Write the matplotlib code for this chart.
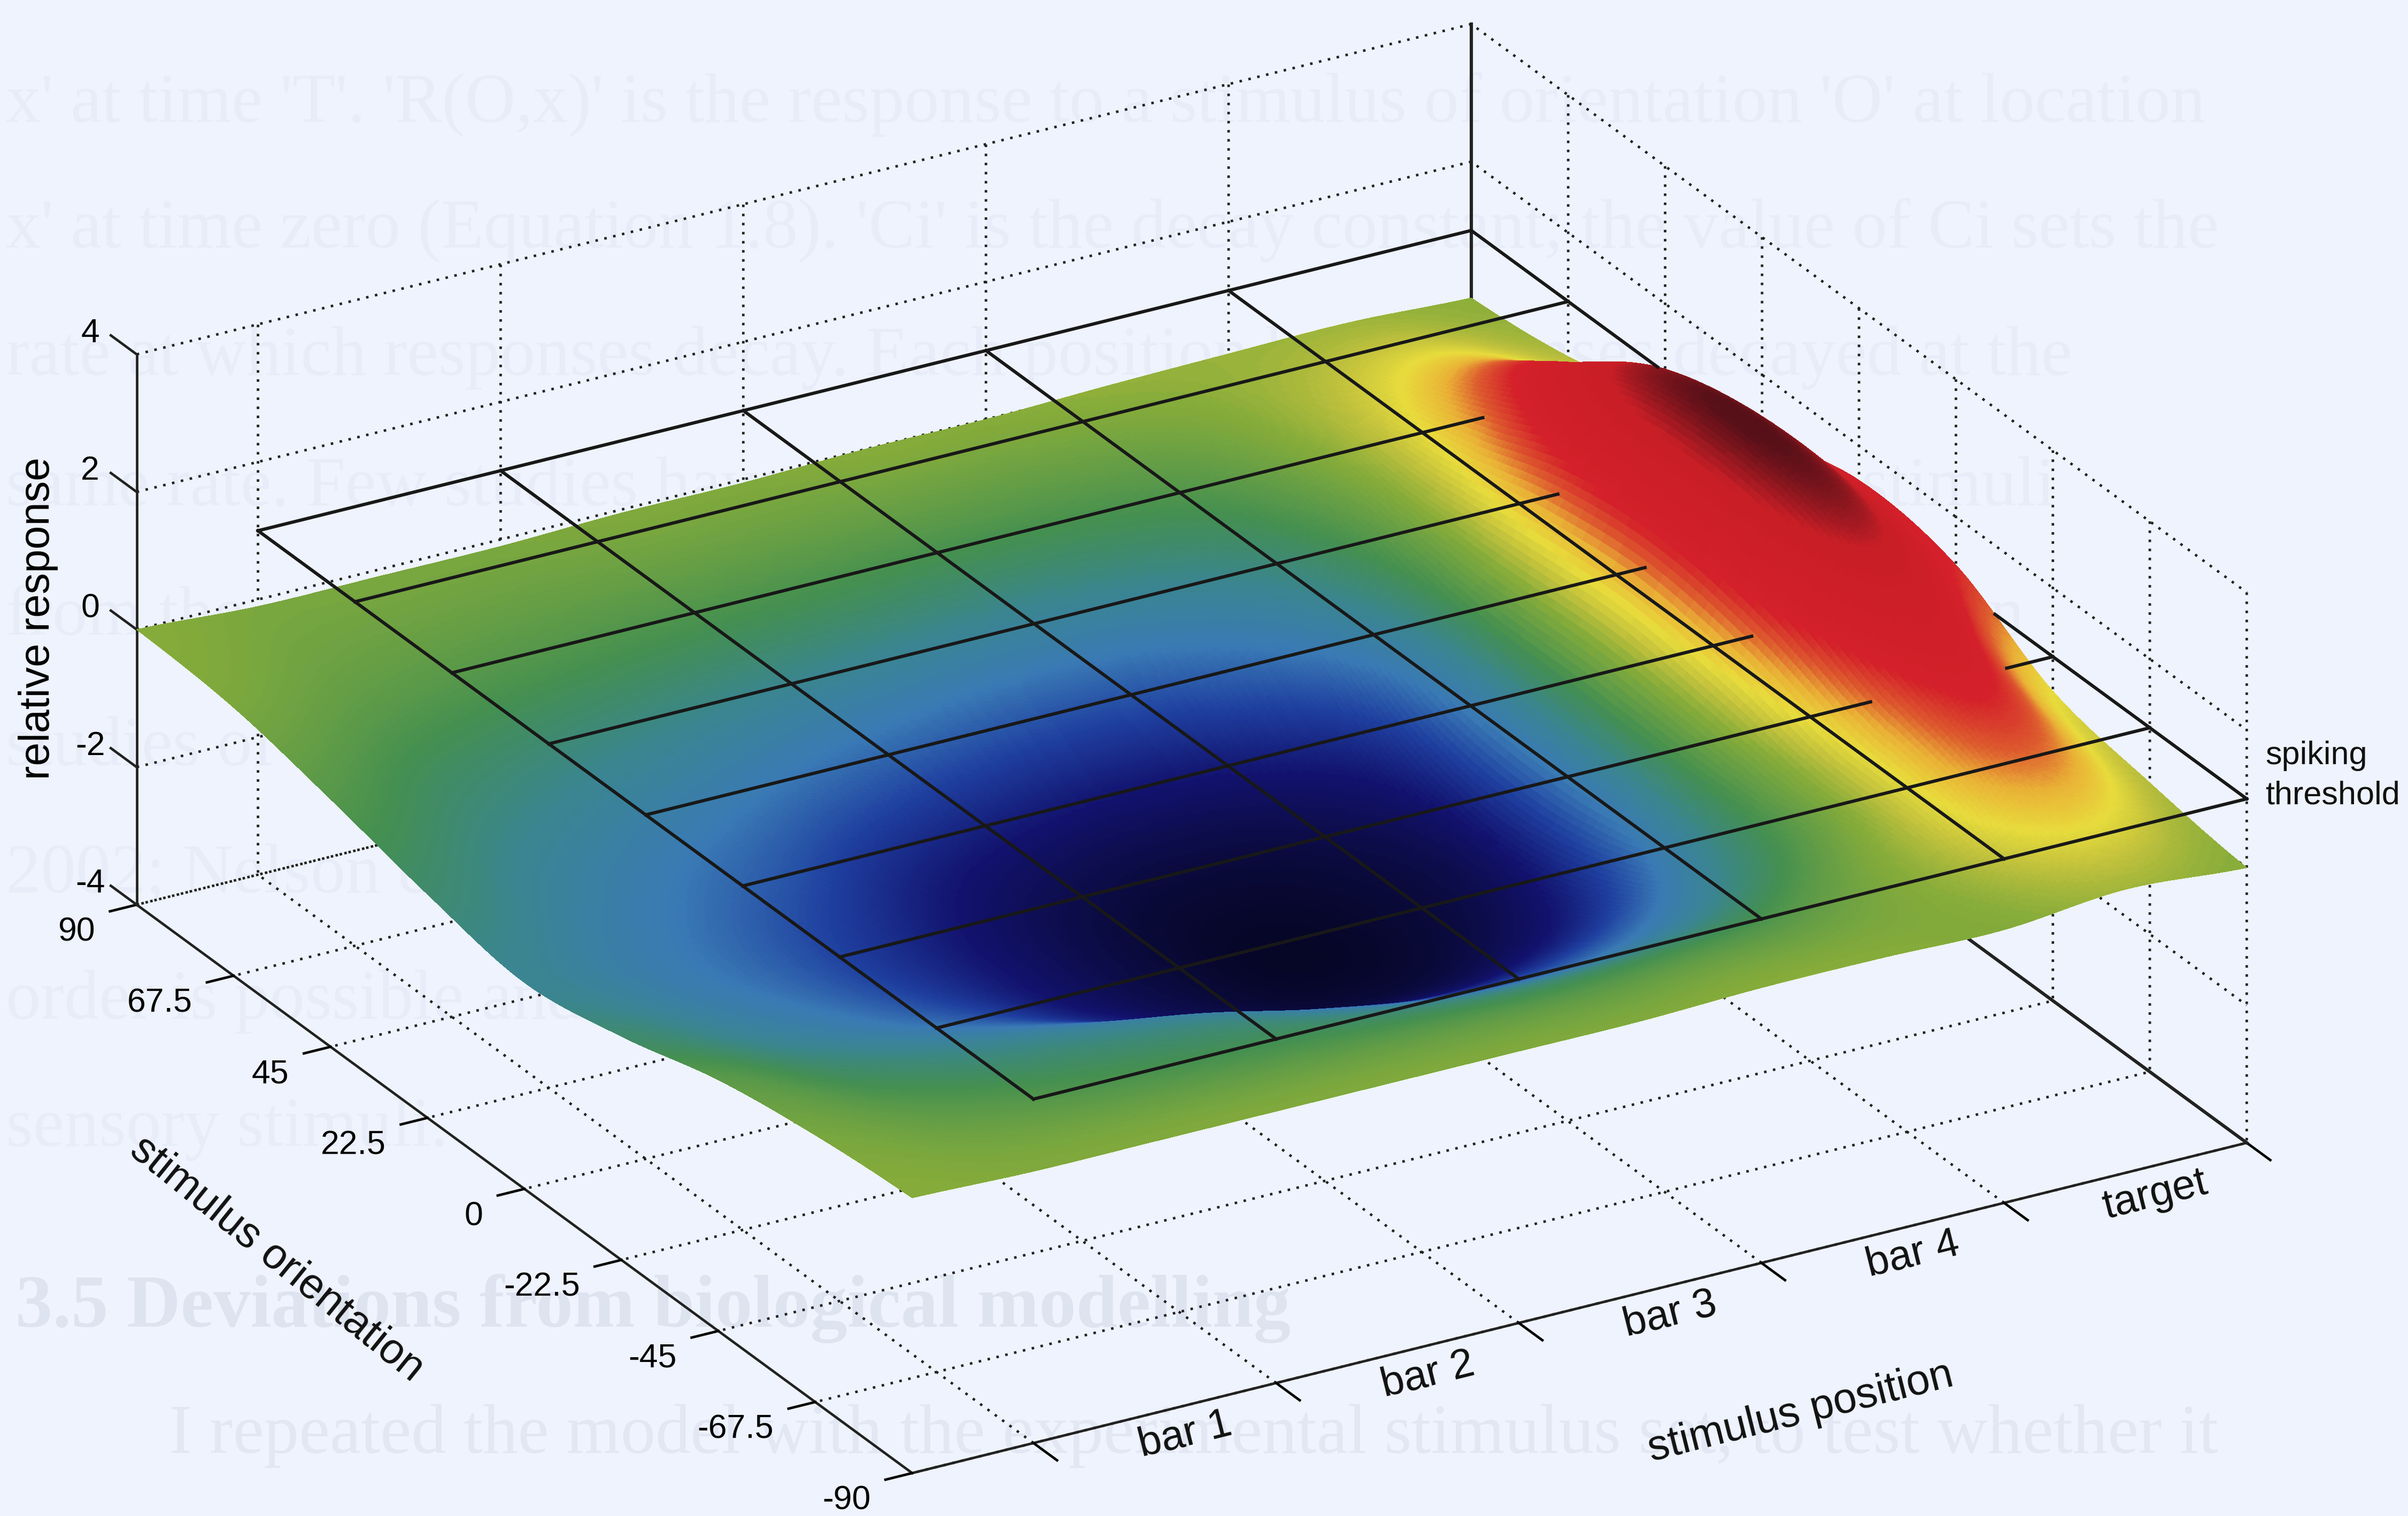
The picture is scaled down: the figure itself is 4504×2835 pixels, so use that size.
import numpy as np
import matplotlib
matplotlib.use("Agg")
import matplotlib.pyplot as plt
from matplotlib.colors import LinearSegmentedColormap
from mpl_toolkits.mplot3d import proj3d

W, H = 4504, 2835
DPI = 200
BG = '#EEF3FD'

# --- data -----------------------------------------------------------------
position_ticks = [1, 2, 3, 4, 5, 6]
position_labels = ['bar 1', 'bar 2', 'bar 3', 'bar 4', 'target']
position_label_at = [1.5, 2.5, 3.5, 4.5, 5.5]
orientation_ticks = [-90, -67.5, -45, -22.5, 0, 22.5, 45, 67.5, 90]
orientation_labels = ['-90', '-67.5', '-45', '-22.5', '0', '22.5', '45', '67.5', '90']
response_ticks = [-4, -2, 0, 2, 4]
threshold = 1.0

grid_position = [0.5, 1, 1.5, 2, 2.5, 3, 3.5, 4, 4.5, 5, 5.5, 6]
grid_orientation = [90, 67.5, 45, 22.5, 0, -22.5, -45, -67.5, -90]
response_y90 = [0.00, -0.10, -0.10, -0.10, -0.05, -0.05, 0.00, 0.00, 0.05, 0.08, 0.10, 0.02]
response_y68 = [-0.10, -0.28, -0.38, -0.45, -0.50, -0.55, -0.60, -0.58, -0.40, 0.15, 0.60, 0.20]
response_y45 = [-0.40, -0.72, -0.95, -1.15, -1.38, -1.58, -1.72, -1.62, -1.10, 0.10, 1.55, 0.60]
response_y22 = [-0.75, -1.10, -1.42, -1.75, -2.20, -2.55, -2.75, -2.65, -2.00, 0.20, 2.50, 1.10]
response_y00 = [-1.00, -1.30, -1.62, -2.02, -2.45, -2.85, -3.15, -3.00, -2.30, 0.30, 2.75, 1.50]
response_n22 = [-0.75, -1.10, -1.42, -1.78, -2.25, -2.65, -2.90, -2.75, -2.00, 0.15, 2.50, 1.30]
response_n45 = [-0.35, -0.68, -0.88, -1.00, -1.15, -1.50, -1.75, -1.70, -1.20, -0.05, 1.68, 0.50]
response_n68 = [-0.12, -0.30, -0.42, -0.48, -0.52, -0.58, -0.62, -0.55, -0.40, 0.10, 1.00, 0.20]
response_n90 = [0.00, -0.05, -0.05, -0.05, -0.05, -0.05, -0.05, 0.00, 0.00, -0.03, 0.12, 0.00]

color_levels = [-3.3, -2.9, -2.4, -1.9, -1.45, -1.0, -0.55, 0.0, 0.25, 0.5, 0.8, 1.05, 1.35, 2.3, 2.75, 3.1]
color_values = ['#04041E', '#0A0A3C', '#12126E', '#1F40A0', '#3A7AB5', '#3A8590', '#448F50',
                '#86AC3A', '#BFC03C', '#E8DC3C', '#E9B036', '#DD5A2E', '#D4202A', '#C81E26',
                '#5A1018', '#2A0A10']

response = np.array([response_y90, response_y68, response_y45, response_y22, response_y00,
                     response_n22, response_n45, response_n68, response_n90])

# --- rendering: interpolated shading between the read grid values ----------
def cr_axis(a, n, axis):
    a = np.moveaxis(a, axis, 0)
    m = a.shape[0]
    s = np.linspace(0, m - 1, n)
    i = np.clip(np.floor(s).astype(int), 0, m - 2)
    t = (s - i).reshape((-1,) + (1,) * (a.ndim - 1))
    p0 = a[np.clip(i - 1, 0, m - 1)]
    p1 = a[i]
    p2 = a[i + 1]
    p3 = a[np.clip(i + 2, 0, m - 1)]
    out = 0.5 * (2 * p1 + (p2 - p0) * t + (2 * p0 - 5 * p1 + 4 * p2 - p3) * t ** 2
                 + (3 * p1 - p0 - 3 * p2 + p3) * t ** 3)
    return np.moveaxis(out, 0, axis)

NX, NY = 331, 361
Zf = cr_axis(cr_axis(response, NY, 0), NX, 1)
xf = np.linspace(grid_position[0], grid_position[-1], NX)
yf = np.linspace(grid_orientation[0], grid_orientation[-1], NY)
Xf, Yf = np.meshgrid(xf, yf)

plt.rcParams['font.family'] = ['Liberation Sans', 'DejaVu Sans']
plt.rcParams['grid.linestyle'] = (0, (1, 2.6))
plt.rcParams['grid.color'] = '#222222'
plt.rcParams['grid.linewidth'] = 1.7
plt.rcParams['axes.linewidth'] = 1.7
plt.rcParams['axes.edgecolor'] = '#222222'
plt.rcParams['xtick.major.width'] = 1.7
plt.rcParams['ytick.major.width'] = 1.7

fig = plt.figure(figsize=(W / DPI, H / DPI), dpi=DPI, facecolor=BG)
def ov(x, y):
    return x / 1568, 1 - y / 987

# faint show-through of the reverse of the scanned page
GHOST = '#E8ECF8'
ghost_lines = [
    (4, 68, "x' at time 'T'. 'R(O,x)' is the response to a stimulus of orientation 'O' at location"),
    (4, 150, "x' at time zero (Equation 1.8). 'Ci' is the decay constant; the value of Ci sets the"),
    (4, 233, "rate at which responses decay. Each position had responses decayed at the"),
    (4, 318, "same rate. Few studies have examined this with simulations using stimuli"),
    (4, 402, "from the experiment tested this decay over time; see for this comparison"),
    (4, 487, "studies of this decay in striate cortex have been made, and results et al."),
    (4, 570, "2002; Nelson et al. 2003 showed how the responses combine in temporal"),
    (4, 652, "order is possible and this is relevant to the processing of"),
    (4, 735, "sensory stimuli."),
]
for gx, gy, gt in ghost_lines:
    fig.text(*ov(gx, gy), gt, fontsize=47, family='Liberation Serif', color=GHOST,
             va='center', zorder=-5)
fig.text(*ov(10, 852), '3.5 Deviations from biological modelling', fontsize=50,
         family='Liberation Serif', weight='bold', color='#DEE3F0', va='center', zorder=-5)
fig.text(*ov(110, 935), 'I repeated the model with the experimental stimulus set, to test whether it',
         fontsize=47, family='Liberation Serif', color='#E2E7F3', va='center', zorder=-5)

ax = fig.add_axes([0.1, 0.1, 0.5, 0.5], projection='3d', computed_zorder=False)
ax.patch.set_alpha(0)
ELEV, AZIM = 25.2, -120.16
ax.set_proj_type('ortho')
ax.view_init(elev=ELEV, azim=AZIM)
ax.set_box_aspect((1, 1, 0.394))
ax.set_xlim(0.5, 6, view_margin=0)
ax.set_ylim(-90, 90, view_margin=0)
ax.set_zlim(-4, 4, view_margin=0)

# place the axes so that the floor corners land where they are in the picture
M = ax.get_proj()
def prj(x, y, z):
    a, b, _ = proj3d.proj_transform(x, y, z, M)
    return float(a), float(b)
L = prj(0.5, 90, -4)
R = prj(6, -90, -4)
px_k = W / 1568
target_L = np.array([89 * px_k, H - 589 * px_k])
target_R = np.array([1463 * px_k, H - 744 * px_k])
vl = ax.viewLim
S = (target_R[0] - target_L[0]) / (R[0] - L[0]) * (vl.x1 - vl.x0)
x0 = target_L[0] - (L[0] - vl.x0) / (vl.x1 - vl.x0) * S
y0 = target_L[1] - (L[1] - vl.y0) / (vl.y1 - vl.y0) * S
ax.set_position([x0 / W, y0 / H, S / W, S / H])

cmap = LinearSegmentedColormap.from_list(
    'resp', [((v - color_levels[0]) / (color_levels[-1] - color_levels[0]), c)
             for v, c in zip(color_levels, color_values)], N=256)

ax.plot_surface(Xf, Yf, Zf, cmap=cmap, vmin=color_levels[0], vmax=color_levels[-1],
                rstride=1, cstride=1, linewidth=0, antialiased=False, shade=False, zorder=1)

for a, fac in ((ax.xaxis, 0.38), (ax.yaxis, 0.25), (ax.zaxis, 0.0)):
    a.set_pane_color((1, 1, 1, 0))
    a.pane.set_edgecolor((1, 1, 1, 0))
    a._axinfo['tick']['inward_factor'] = fac
    a._axinfo['tick']['outward_factor'] = 0.0
ax.xaxis._axinfo['axisline']['linewidth'] = 2.6

ax.set_xticks(position_ticks)
ax.set_xticklabels([''] * len(position_ticks))
ax.set_yticks(orientation_ticks)
ax.set_yticklabels(orientation_labels, fontsize=22.5, va='center', ha='right')
ax.set_zticks(response_ticks)
ax.set_zticklabels([str(v) for v in response_ticks], fontsize=22.5, va='bottom', ha='center')
ax.zaxis.set_ticks_position('upper')
ax.tick_params(axis='y', pad=16)
ax.tick_params(axis='z', pad=9)
ax.zaxis.set_rotate_label(False)
ax.set_zlabel('relative response', fontsize=28.5, rotation=90, labelpad=15)

# response-axis tick marks point along the orientation direction
for v in response_ticks:
    ax.plot([0.5, 0.5], [90, 96], [v, v], color='#222222', lw=1.7, zorder=0.4)

# far floor edge and far vertical edge (behind the surface)
ax.plot([6, 6], [-90, 90], [-4, -4], color='#222222', lw=2.2, zorder=0.5)
ax.plot([6, 6], [90, 90], [-4, 4], color='#222222', lw=2.2, zorder=0.5)

# threshold plane lines with surface hiding
cos_el = np.cos(np.radians(ELEV))
sin_el = np.sin(np.radians(ELEV))
view = np.array([cos_el * np.cos(np.radians(AZIM)) * 5.5 / 1005,
                 cos_el * np.sin(np.radians(AZIM)) * 180 / 1005,
                 sin_el * 8 / 395.7])
def hidden(xs, ys, z0):
    out = np.zeros_like(xs, dtype=bool)
    for t in np.arange(0, 700, 4.0):
        xq = xs + t * view[0]
        yq = ys + t * view[1]
        inside = (xq >= xf[0]) & (xq <= xf[-1]) & (yq >= -90) & (yq <= 90)
        ix = np.clip(((xq - xf[0]) / (xf[1] - xf[0])).round().astype(int), 0, NX - 1)
        iy = np.clip(((yq - yf[0]) / (yf[1] - yf[0])).round().astype(int), 0, NY - 1)
        out |= inside & (Zf[iy, ix] > z0 + t * view[2] + 0.01)
    return out

def plane_line(xa, ya, xb, yb):
    s = np.linspace(0, 1, 500)
    xs = xa + (xb - xa) * s
    ys = ya + (yb - ya) * s
    zs = np.full_like(s, threshold)
    zs[hidden(xs, ys, threshold)] = np.nan
    ax.plot(xs, ys, zs, color='#181818', lw=2.2, zorder=3)

for xv in position_ticks:
    plane_line(xv, -90, xv, 90)
for yv in orientation_ticks:
    plane_line(1, yv, 6, yv)

# hand-placed labels of the original figure
def put(x, y, z, txt, **kw):
    a, b = prj(x, y, z)
    ax.text2D(a, b, txt, transform=ax.transData, ha='center', va='center',
              color='#111111', **kw)

for xv, txt in zip(position_label_at, position_labels):
    put(xv, -97, -4, txt, fontsize=28, rotation=14)
put(3.49, -127.8, -4, 'stimulus position', fontsize=28.5, rotation=14)
put(-0.56, -2.2, -4, 'stimulus orientation', fontsize=28.5, rotation=-39)
fig.text(*ov(1475, 492), 'spiking', fontsize=22, va='center', color='#111111')
fig.text(*ov(1475, 518), 'threshold', fontsize=22, va='center', color='#111111')

fig.savefig('out.png', dpi=DPI, facecolor=BG)
